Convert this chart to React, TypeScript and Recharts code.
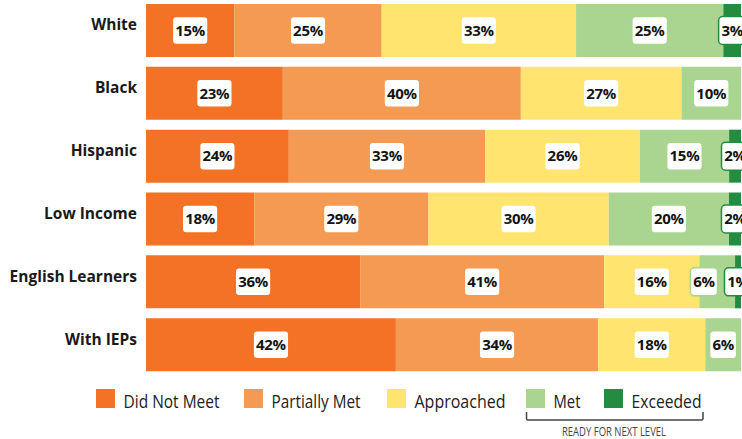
import React from 'react';
import { BarChart, Bar, XAxis, YAxis, LabelList, Legend } from 'recharts';

const groups = ['White', 'Black', 'Hispanic', 'Low Income', 'English Learners', 'With IEPs'];
const didNotMeet = [15, 23, 24, 18, 36, 42];
const partiallyMet = [25, 40, 33, 29, 41, 34];
const approached = [33, 27, 26, 30, 16, 18];
const met = [25, 10, 15, 20, 6, 6];
const exceeded = [3, 0, 2, 2, 1, 0];

const seriesKeys = ['didNotMeet', 'partiallyMet', 'approached', 'met', 'exceeded'];
const seriesNames = ['Did Not Meet', 'Partially Met', 'Approached', 'Met', 'Exceeded'];
const seriesColors = ['#F37225', '#F59A52', '#FFE46F', '#A9D590', '#248C41'];
const bracketLabel = 'READY FOR NEXT LEVEL';

const seriesValues = [didNotMeet, partiallyMet, approached, met, exceeded];

const data = groups.map((g, i) => {
  const row: Record<string, any> = { group: g };
  seriesKeys.forEach((k, s) => {
    row[k] = seriesValues[s][i];
  });
  return row;
});

const FONT = "'Open Sans', 'Noto Sans', sans-serif";

const labelW = (v: number) => (String(v).length * 0.572 + 0.9) * 15 + 5;

const makeLabel = (si: number) => (props: any) => {
  const x = Number(props.x);
  const y = Number(props.y);
  const width = Number(props.width);
  const height = Number(props.height);
  const value = Number(props.value);
  const index = props.index;
  if (!value) return null;
  const w = labelW(value);
  let cx = x + width / 2;
  if (seriesKeys[si] === 'met') {
    const ex = exceeded[index];
    if (ex > 0) {
      const exW = (width * ex) / value;
      const exCx = x + width + exW / 2;
      const limit = exCx - labelW(ex) / 2 - 7;
      if (cx + w / 2 > limit) cx = limit - w / 2;
    }
  }
  const cy = y + height / 2;
  return (
    <g>
      <rect
        x={cx - w / 2}
        y={cy - 14}
        width={w}
        height={28}
        rx={4}
        ry={4}
        fill="#ffffff"
        stroke={seriesColors[si]}
        strokeWidth={1.5}
      />
      <text
        x={cx}
        y={cy + 5.3}
        textAnchor="middle"
        fontFamily={FONT}
        fontWeight={700}
        fontSize={15}
        fill="#141414"
        letterSpacing={-0.3}
      >
        {value}%
      </text>
    </g>
  );
};

const YTick = (props: any) => (
  <text
    x={137}
    y={Number(props.y)}
    textAnchor="end"
    fontFamily={FONT}
    fontWeight={700}
    fontSize={15.5}
    fill="#1a1a1a"
  >
    {props.payload.value}
  </text>
);

const LEG_X = [96, 244, 387, 526, 604];
const LEG_TW = [96, 89, 91, 27, 70];

const renderLegend = () => (
  <svg width={742} height={59} style={{ display: 'block' }}>
    {seriesNames.map((name, i) => (
      <g key={name}>
        <rect x={LEG_X[i]} y={9} width={19} height={19} fill={seriesColors[i]} />
        <text
          x={LEG_X[i] + 27.5}
          y={28}
          fontFamily={FONT}
          fontSize={17.5}
          fill="#222222"
          textLength={LEG_TW[i]}
          lengthAdjust="spacingAndGlyphs"
        >
          {name}
        </text>
      </g>
    ))}
    <path
      d="M526.5 32 V38.5 Q526.5 40 528 40 H701.5 Q703 40 703 38.5 V32"
      stroke="#444444"
      strokeWidth={1.5}
      fill="none"
    />
    <text
      x={614}
      y={56}
      textAnchor="middle"
      fontFamily={FONT}
      fontSize={12}
      fill="#444444"
      textLength={104}
      lengthAdjust="spacingAndGlyphs"
    >
      {bracketLabel}
    </text>
  </svg>
);

export default function App() {
  return (
    <div style={{ width: 742, height: 439 }}>
      <style>{'body{margin:0;}'}</style>
      <BarChart
        width={742}
        height={439}
        data={data}
        layout="vertical"
        stackOffset="expand"
        margin={{ top: -1, right: 1, bottom: 63, left: 0 }}
        barSize={53}
      >
        <XAxis type="number" hide domain={[0, 1]} />
        <YAxis
          type="category"
          dataKey="group"
          width={146}
          axisLine={false}
          tickLine={false}
          interval={0}
          tick={<YTick />}
        />
        <Legend
          layout="horizontal"
          verticalAlign="middle"
          align="center"
          wrapperStyle={{ top: 380, left: 0, width: 742, height: 59 }}
          content={renderLegend}
        />
        {seriesKeys.map((k, si) => (
          <Bar
            key={k}
            dataKey={k}
            name={seriesNames[si]}
            stackId="a"
            fill={seriesColors[si]}
            isAnimationActive={false}
          >
            <LabelList dataKey={k} content={makeLabel(si)} />
          </Bar>
        ))}
      </BarChart>
    </div>
  );
}
